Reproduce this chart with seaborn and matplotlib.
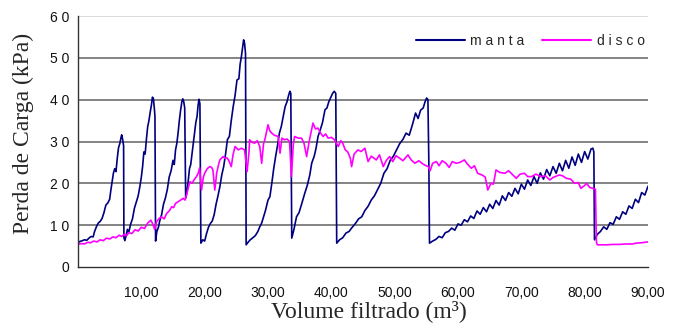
import matplotlib
matplotlib.use("Agg")
import matplotlib.pyplot as plt
import seaborn as sns
import pandas as pd
from matplotlib.lines import Line2D

# ---- data ----
manta_x = [0.0, 0.3, 0.7, 1.0, 1.4, 1.8, 2.1, 2.4, 2.6, 2.9, 3.2, 3.5, 3.8, 4.1, 4.4, 4.7, 5.0, 5.2, 5.4, 5.6,
           5.8, 6.0, 6.2, 6.4, 6.6, 6.8, 6.9, 7.05, 7.2, 7.25, 7.4,
           7.6, 7.8, 8.0, 8.3, 8.6, 8.9, 9.2, 9.5, 9.8, 10.0, 10.2, 10.4, 10.6, 10.8, 11.0, 11.2, 11.4, 11.6,
           11.75, 11.9, 12.05, 12.15, 12.25,
           12.45, 12.7, 12.9, 13.2, 13.5, 13.8, 14.1, 14.4, 14.7, 15.0, 15.2, 15.4, 15.6, 15.8, 16.0, 16.2,
           16.4, 16.55, 16.7, 16.85, 17.0,
           17.2, 17.4, 17.6, 17.8, 18.0, 18.2, 18.4, 18.6, 18.8, 18.95, 19.1, 19.25, 19.4,
           19.7, 20.0, 20.3, 20.6, 20.9, 21.2, 21.5, 21.8, 22.1, 22.4, 22.7, 23.0, 23.3, 23.6, 23.9, 24.2,
           24.5, 24.8, 25.1, 25.4, 25.6, 25.8, 26.0, 26.15, 26.3, 26.45, 26.55,
           26.9, 27.2, 27.6, 28.0, 28.4, 28.7, 29.0, 29.3, 29.6, 30.0, 30.3, 30.6, 30.9, 31.2, 31.5, 31.8,
           32.1, 32.4, 32.7, 33.0, 33.25, 33.45, 33.6, 33.75,
           34.1, 34.5, 34.9, 35.3, 35.8, 36.2, 36.6, 36.9, 37.3, 37.6, 37.9, 38.3, 38.6, 39.0, 39.3, 39.6,
           39.9, 40.2, 40.45, 40.7, 40.85,
           41.3, 41.8, 42.3, 42.8, 43.3, 43.8, 44.3, 44.8, 45.3, 45.8, 46.3, 46.8, 47.3, 47.8, 48.3, 48.8,
           49.3, 49.8, 50.3, 50.8, 51.3, 51.8, 52.3, 52.8, 53.3, 53.7, 54.1, 54.5, 54.8, 55.05, 55.25,
           55.4, 55.5,
           56.0, 56.5, 57.0, 57.5, 58.0, 58.5, 59.0, 59.5, 60.0, 60.5, 61.0, 61.5, 62.0, 62.5, 63.0, 63.5,
           64.0, 64.5, 65.0, 65.5, 66.0, 66.5, 67.0, 67.5, 68.0, 68.5, 69.0, 69.5, 70.0, 70.5, 71.0, 71.5,
           72.0, 72.5, 73.0, 73.5, 74.0, 74.5, 75.0, 75.5, 76.0, 76.5, 77.0, 77.5, 78.0, 78.5, 79.0, 79.5,
           80.0, 80.5, 81.0, 81.3, 81.45, 81.55,
           82.0, 82.5, 83.0, 83.5, 84.0, 84.5, 85.0, 85.5, 86.0, 86.5, 87.0, 87.5, 88.0, 88.5, 89.0, 89.5,
           90.0]
manta_y = [5.8, 6.1, 6.3, 6.5, 6.4, 7.0, 7.3, 7.2, 8.4, 9.6, 10.5, 10.9, 11.6, 13.0, 14.8, 15.3, 16.2, 18.5, 20.5, 22.5,
           23.5, 22.8, 26.0, 28.5, 29.5, 31.0, 31.6, 30.5, 29.0, 7.0, 6.3,
           7.5, 9.0, 8.2, 10.2, 11.5, 14.0, 15.5, 17.0, 19.5, 21.5, 24.0, 27.5, 27.0, 30.5, 33.5, 35.0, 37.0, 38.8,
           40.6, 40.3, 38.0, 36.0, 6.2,
           8.5, 9.5, 11.0, 12.5, 15.0, 16.5, 18.5, 21.5, 23.0, 25.5, 24.5, 28.0, 29.5, 32.0, 35.0, 37.5,
           39.5, 40.2, 39.5, 38.0, 16.5,
           18.0, 20.5, 23.5, 24.5, 27.0, 29.5, 32.0, 34.5, 36.0, 38.5, 40.1, 39.0, 5.7,
           6.5, 6.2, 8.0, 9.5, 10.4, 11.0, 12.5, 15.0, 17.0, 19.2, 22.0, 24.0, 27.0, 30.5, 31.2, 35.0,
           38.3, 41.0, 44.7, 45.0, 48.5, 50.3, 52.5, 54.3, 53.5, 51.0, 5.3,
           6.0, 6.5, 7.0, 7.5, 8.5, 9.6, 10.5, 12.0, 13.5, 16.0, 16.8, 20.0, 23.5, 26.4, 29.0, 32.0,
           33.6, 36.0, 38.3, 39.5, 41.0, 42.0, 41.5, 6.9,
           9.0, 12.0, 13.0, 15.0, 17.6, 19.5, 22.0, 24.8, 26.5, 28.5, 31.2, 33.0, 34.5, 37.6, 38.0, 39.5,
           40.5, 41.5, 42.0, 41.5, 5.7,
           6.5, 7.0, 8.1, 8.5, 9.5, 10.4, 11.5, 12.0, 13.5, 14.5, 16.0, 17.0, 18.5, 20.0, 22.4, 23.5,
           25.5, 26.5, 28.0, 29.5, 30.5, 32.0, 31.5, 34.0, 36.8, 35.5, 37.5, 38.0, 39.5, 40.4, 40.0,
           24.5, 5.7,
           6.2, 6.6, 7.3, 7.0, 8.2, 8.5, 9.3, 8.8, 10.3, 10.0, 11.3, 10.8, 12.2, 11.6, 13.4, 12.6,
           14.2, 13.2, 15.0, 14.0, 15.9, 14.8, 17.0, 15.9, 17.8, 16.9, 18.8, 17.5, 19.8, 18.6, 20.8, 19.5,
           21.6, 20.0, 22.5, 21.0, 23.3, 21.8, 24.0, 22.4, 24.8, 23.0, 25.5, 23.6, 26.3, 24.3, 27.0, 25.0,
           27.6, 25.8, 28.2, 28.4, 27.5, 6.5,
           7.8, 8.5, 9.6, 9.0, 10.6, 10.2, 12.0, 11.4, 13.2, 12.6, 14.6, 14.0, 16.2, 15.4, 17.8, 17.2,
           19.3]

disco_x = [0.0, 0.5, 1.0, 1.5, 2.0, 2.5, 3.0, 3.5, 4.0, 4.5, 5.0, 5.5, 6.0, 6.5, 6.9, 7.3, 7.7, 8.0, 8.5, 9.0,
           9.5, 10.0, 10.5, 11.0, 11.5, 11.8, 12.1, 12.4, 12.8, 13.2, 13.6, 14.0, 14.4, 14.8, 15.1, 15.4,
           15.8, 16.2, 16.6, 16.9, 17.2, 17.5, 17.7, 18.0, 18.4, 18.7, 19.0, 19.2, 19.5, 19.8, 20.0, 20.4,
           20.8, 21.1, 21.3, 21.6, 21.9, 22.2, 22.4, 22.9, 23.2, 23.5, 23.8, 24.2, 24.5, 24.8, 25.3, 25.8,
           26.3, 26.7, 27.0, 27.1, 27.5, 27.9, 28.3, 28.7, 29.0, 29.3, 29.5, 30.0, 30.3, 30.6, 31.0, 31.6,
           31.9, 32.2, 32.6, 33.0, 33.4, 33.7, 34.0, 34.2, 34.8, 35.3, 35.7, 36.1, 36.5, 37.1, 37.5, 37.9,
           38.3, 38.7, 39.1, 39.5, 40.0, 40.5, 41.1, 41.5, 41.8, 42.2, 42.6, 43.0, 43.2, 43.6, 44.2, 44.7,
           45.3, 45.8, 46.3, 47.1, 47.6, 48.2, 48.7, 49.2, 49.7, 50.2, 50.8, 51.3, 52.1, 52.6, 53.2, 53.8,
           54.3, 54.7, 55.3, 55.6, 56.0, 56.6, 57.0, 57.5, 58.1, 58.6, 59.1, 59.7, 60.3, 61.0, 61.5, 62.1,
           62.6, 63.1, 63.8, 64.3, 64.7, 65.2, 65.6, 66.0, 66.6, 67.4, 68.0, 68.4, 69.2, 69.8, 70.5, 71.0,
           71.6, 72.3, 73.1, 73.8, 74.5, 75.0, 76.0, 76.5, 77.1, 77.8, 78.4, 79.0, 79.4, 80.0, 80.3, 80.8,
           81.3, 81.7, 81.85, 82.0, 83.4, 84.5, 85.5, 86.5, 87.5, 88.1, 89.0, 90.0]
disco_y = [5.4, 5.6, 5.5, 5.9, 5.8, 6.2, 6.0, 6.5, 6.3, 6.9, 6.7, 7.2, 7.0, 7.6, 7.3, 7.8, 7.5, 8.2, 8.0, 8.9,
           8.6, 9.5, 9.2, 10.5, 11.2, 10.3, 9.0, 10.8, 11.6, 12.0, 11.5, 12.8, 13.4, 14.4, 14.2, 15.2,
           15.6, 16.0, 16.4, 16.0, 17.5, 19.5, 20.4, 20.0, 21.0, 21.6, 22.5, 23.7, 18.4, 21.5, 22.4, 23.5,
           24.0, 23.8, 23.2, 18.4, 22.5, 24.5, 25.6, 26.4, 26.0, 26.1, 25.5, 24.0, 27.0, 28.8, 28.0, 28.4,
           28.0, 22.8, 27.5, 30.4, 29.8, 29.6, 30.2, 28.8, 24.8, 29.5, 30.4, 34.0, 32.5, 32.0, 31.5, 31.2,
           27.2, 30.8, 30.4, 30.6, 30.0, 21.6, 29.5, 31.2, 30.8, 30.8, 29.5, 26.4, 30.0, 34.4, 33.0, 33.2,
           32.0, 31.2, 31.8, 30.8, 31.0, 30.4, 28.8, 30.2, 29.6, 28.0, 27.5, 26.0, 24.0, 27.0, 28.0, 27.6,
           28.4, 25.2, 26.5, 25.6, 26.8, 24.0, 25.5, 26.4, 25.2, 26.6, 26.0, 25.4, 26.8, 25.6, 24.8, 25.4,
           24.8, 24.4, 24.0, 23.0, 24.8, 25.2, 24.2, 25.4, 24.8, 23.8, 25.2, 24.8, 25.0, 25.6, 24.6, 23.6,
           24.2, 22.4, 22.0, 21.5, 18.4, 20.0, 19.8, 23.2, 22.6, 22.4, 23.0, 22.4, 21.2, 22.2, 22.4, 21.6,
           21.6, 22.2, 21.6, 21.8, 20.8, 21.4, 22.0, 21.8, 21.2, 21.0, 20.0, 20.2, 18.8, 19.5, 20.0, 19.0,
           18.8, 18.6, 6.0, 5.3, 5.3, 5.4, 5.4, 5.5, 5.5, 5.7, 5.8, 6.0]

x_ticks = [0, 10, 20, 30, 40, 50, 60, 70, 80, 90]
x_tick_labels = ["", "10,00", "20,00", "30,00", "40,00", "50,00", "60,00", "70,00", "80,00", "90,00"]
y_ticks = [0, 10, 20, 30, 40, 50, 60]
y_tick_labels = ["0", "1 0", "2 0", "3 0", "4 0", "5 0", "6 0"]
series_names = ["manta", "disco"]
series_labels = ["m a n t a", "d i s c o"]
colors = {"manta": "#000080", "disco": "#FF00FF"}

df = pd.concat([
    pd.DataFrame({"vol": manta_x, "perda": manta_y, "serie": "manta"}),
    pd.DataFrame({"vol": disco_x, "perda": disco_y, "serie": "disco"}),
], ignore_index=True)

sns.set_style("white")
plt.rcParams["font.family"] = ["Liberation Sans", "DejaVu Sans"]

fig = plt.figure(figsize=(6.8, 3.29), dpi=100)
ax = fig.add_axes([78 / 680, 1 - 267 / 329, (648 - 78) / 680, (267 - 16) / 329])

sns.lineplot(data=df, x="vol", y="perda", hue="serie", hue_order=series_names,
             palette=colors, sort=False, estimator=None, units="serie",
             linewidth=1.2, ax=ax, legend=False)

ax.set_xlim(0, 90)
ax.set_ylim(0, 60)
ax.set_xticks(x_ticks)
ax.set_xticklabels(x_tick_labels)
ax.set_yticks(y_ticks)
ax.set_yticklabels(y_tick_labels)

for v in y_ticks[1:]:
    ax.axhline(v, color="#d9d9d9" if v == 60 else "#7a7a7a", linewidth=1.3, zorder=0.5)

for s in ["top", "right"]:
    ax.spines[s].set_visible(False)
for s in ["left", "bottom"]:
    ax.spines[s].set_color("#333333")
    ax.spines[s].set_linewidth(1.0)

ax.tick_params(axis="both", which="both", direction="out", length=5, width=1.0,
               color="#333333", labelsize=10, labelcolor="#111111")
ax.tick_params(axis="x", pad=8.5)
ax.tick_params(axis="y", pad=1)

ax.set_xlabel("Volume filtrado (m³)", family=["Liberation Serif", "DejaVu Serif"], fontsize=17)
ax.xaxis.set_label_coords(0.5105, -0.133)
ax.set_ylabel("Perda de Carga (kPa)", family=["Liberation Serif", "DejaVu Serif"], fontsize=17)
ax.yaxis.set_label_coords(-0.078, 0.532)

handles = [Line2D([], [], color=colors[n], linewidth=1.5) for n in series_names]
ax.legend(handles, series_labels, ncol=2, frameon=False, fontsize=10,
          handlelength=3.5, handletextpad=0.4, columnspacing=1.3,
          loc="center right", bbox_to_anchor=(1.016, 54 / 60))

fig.savefig("out.png", dpi=100)
